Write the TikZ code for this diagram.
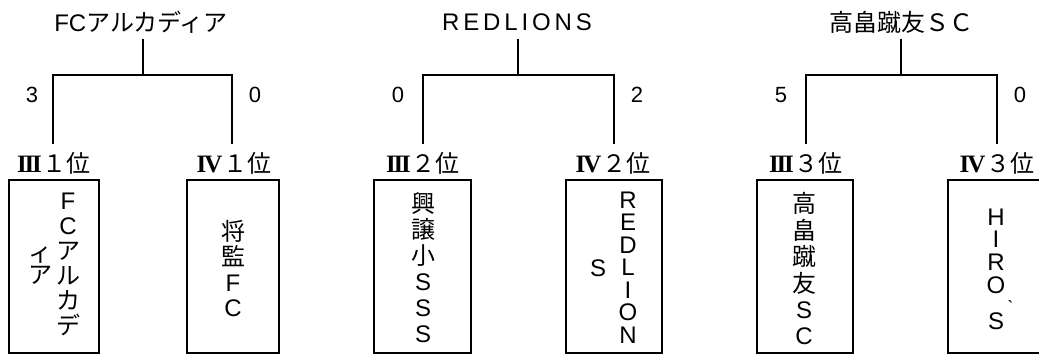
\documentclass[tikz,border=0pt]{standalone}
\usepackage{fontspec}
\setmainfont{Liberation Sans}
\newfontfamily\jp{Noto Sans CJK JP}
\newfontfamily\latsp[LetterSpace=16]{Liberation Sans}
\newfontfamily\latn{Liberation Sans}
\newfontfamily\romf{Liberation Serif}
\newcommand\rmIII{{\romf\bfseries\fontsize{25}{25}\selectfont I\kern-2.2pt I\kern-2.2pt I\kern1pt}}
\newcommand\rmIV{{\romf\bfseries\fontsize{25}{25}\selectfont I\kern-2.2pt V\kern1pt}}
\begin{document}
\begin{tikzpicture}[x=1pt,y=-1pt,
  ln/.style={line width=1.7pt, line cap=rect},
  boxn/.style={draw, line width=1.7pt, inner sep=0pt, minimum height=173pt},
  toplab/.style={inner sep=0pt, font=\fontsize{24}{24}\selectfont},
  ranklab/.style={inner sep=0pt, font=\jp\fontsize{24}{24}\selectfont},
  score/.style={inner sep=0pt, font=\fontsize{22}{22}\selectfont},
  col/.style={inner sep=0pt, align=center, font=\jp\fontsize{24}{#1}\selectfont},
  single/.style={inner sep=0pt, font=\fontsize{24}{24}\selectfont}
]
\useasboundingbox (0,0) rectangle (1039,356);

% top labels
\node[toplab] (t1) at (141,22) {FC{\jp アルカディア}};
\node[toplab] (t2) at (517,22) {\latsp REDLIONS};
\node[toplab] (t3) at (901,22) {\jp 高畠蹴友ＳＣ};

% bracket coordinates
\coordinate (s1) at (143,40); \coordinate (j1) at (143,75);
\coordinate (e1a) at (53,143); \coordinate (e1b) at (232,143);
\coordinate (s2) at (518,40); \coordinate (j2) at (518,75);
\coordinate (e2a) at (423,143); \coordinate (e2b) at (614,143);
\coordinate (s3) at (901,40); \coordinate (j3) at (901,75);
\coordinate (e3a) at (806,143); \coordinate (e3b) at (997,143);

\draw[ln] (s1) -- (j1);
\draw[ln] (e1a) |- (j1) -| (e1b);
\draw[ln] (s2) -- (j2);
\draw[ln] (e2a) |- (j2) -| (e2b);
\draw[ln] (s3) -- (j3);
\draw[ln] (e3a) |- (j3) -| (e3b);

% scores
\node[score] (sc1a) at (32,95) {3};
\node[score] (sc1b) at (255,95) {0};
\node[score] (sc2a) at (398,95) {0};
\node[score] (sc2b) at (637,95) {2};
\node[score] (sc3a) at (781,95) {5};
\node[score] (sc3b) at (1020,95) {0};

% rank labels
\node[ranklab] (r1a) at (54,163) {\rmIII １位};
\node[ranklab] (r1b) at (234,163) {\rmIV １位};
\node[ranklab] (r2a) at (423,163) {\rmIII ２位};
\node[ranklab] (r2b) at (613,163) {\rmIV ２位};
\node[ranklab] (r3a) at (806,163) {\rmIII ３位};
\node[ranklab] (r3b) at (997,163) {\rmIV ３位};

% boxes
\node[boxn, minimum width=90pt] (b1) at (54,266.5) {};
\node[boxn, minimum width=92pt] (b2) at (233,266.5) {};
\node[boxn, minimum width=97pt] (b3) at (422.5,266.5) {};
\node[boxn, minimum width=96pt] (b4) at (614,266.5) {};
\node[boxn, minimum width=96pt] (b5) at (805,266.5) {};
\node[boxn, minimum width=98pt] (b6) at (997,266.5) {};

% box texts (vertical)
\node[col=25] (c1a) at (68,264.5) {{\latn F}\\{\latn C}\\ア\\ル\\カ\\デ};
\node[col=22] (c1b) at (40,266) {ィ\\ア};
\node[col=25.5] (c2) at (233,268.5) {将\\監\\{\latn F}\\{\latn C}};
\node[col=26] (c3) at (423,267.5) {興\\譲\\小\\{\latn S}\\{\latn S}\\{\latn S}};
\node[col=22.5] (c4a) at (628,267.5) {{\latn R}\\{\latn E}\\{\latn D}\\{\latn L}\\{\latn I}\\{\latn O}\\{\latn N}};
\node[single] (c4b) at (598,268) {S};
\node[col=22.7] (c6a) at (996,251) {{\latn H}\\{\latn I}\\{\latn R}\\{\latn O}};
\node[col=26.4] (c5) at (804,269) {高\\畠\\蹴\\友\\{\latn S}\\{\latn C}};
\node[inner sep=0pt, font=\jp\fontsize{18}{18}\selectfont] (c6b) at (1011,309) {｀};
\node[single] (c6c) at (996,321) {S};
\end{tikzpicture}
\end{document}
